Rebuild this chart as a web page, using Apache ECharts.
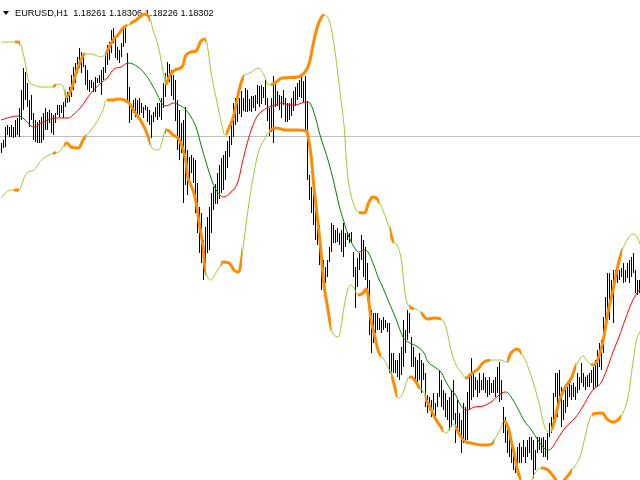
<!DOCTYPE html>
<html><head><meta charset="utf-8">
<script src="https://cdn.jsdelivr.net/npm/echarts@6/dist/echarts.min.js"></script>
<style>html,body{margin:0;padding:0;background:#fff}#c{width:640px;height:480px}</style>
</head><body><div id="c"></div>
<script>
const symbolName = 'EURUSD';
const timeframe = 'H1';
const lastOHLC = ['1.18261', '1.18306', '1.18226', '1.18302'];
const bidPrice = 1.18302;
const priceMin = 1.1487, priceMax = 1.1967;

const barHigh = [
1.1824,1.1827,1.1840,1.1842,1.1840,1.1842,1.1840,1.1847,1.1849,1.1859,
1.1877,1.1899,1.1895,1.1884,1.1867,1.1872,1.1854,1.1847,1.1845,1.1847,
1.1850,1.1854,1.1859,1.1855,1.1857,1.1854,1.1852,1.1854,1.1862,1.1862,
1.1862,1.1865,1.1872,1.1875,1.1880,1.1892,1.1900,1.1904,1.1910,1.1919,
1.1915,1.1914,1.1902,1.1897,1.1887,1.1887,1.1885,1.1890,1.1889,1.1892,
1.1897,1.1900,1.1914,1.1922,1.1925,1.1937,1.1939,1.1930,1.1920,1.1917,
1.1924,1.1939,1.1942,1.1914,1.1880,1.1860,1.1867,1.1869,1.1867,1.1869,
1.1864,1.1860,1.1862,1.1860,1.1857,1.1852,1.1855,1.1860,1.1864,1.1864,
1.1869,1.1884,1.1894,1.1905,1.1903,1.1897,1.1892,1.1887,1.1867,1.1857,
1.1844,1.1847,1.1860,1.1817,1.1810,1.1812,1.1809,1.1807,1.1784,1.1760,
1.1754,1.1727,1.1740,1.1750,1.1760,1.1774,1.1780,1.1783,1.1794,1.1802,
1.1809,1.1812,1.1816,1.1826,1.1831,1.1846,1.1864,1.1869,1.1871,1.1869,
1.1876,1.1869,1.1879,1.1877,1.1868,1.1871,1.1871,1.1872,1.1882,1.1881,
1.1882,1.1880,1.1887,1.1869,1.1859,1.1869,1.1891,1.1884,1.1876,1.1872,
1.1871,1.1877,1.1869,1.1864,1.1864,1.1869,1.1876,1.1880,1.1884,1.1887,
1.1892,1.1886,1.1891,1.1866,1.1792,1.1780,1.1779,1.1774,1.1757,1.1742,
1.1722,1.1707,1.1700,1.1707,1.1720,1.1744,1.1742,1.1737,1.1739,1.1734,
1.1737,1.1744,1.1734,1.1735,1.1734,1.1735,1.1715,1.1700,1.1709,1.1714,
1.1732,1.1727,1.1720,1.1704,1.1687,1.1657,1.1654,1.1654,1.1654,1.1649,
1.1647,1.1650,1.1647,1.1644,1.1644,1.1614,1.1614,1.1607,1.1607,1.1614,
1.1620,1.1647,1.1637,1.1657,1.1654,1.1630,1.1620,1.1610,1.1607,1.1614,
1.1607,1.1604,1.1594,1.1572,1.1570,1.1567,1.1574,1.1564,1.1574,1.1597,
1.1587,1.1577,1.1574,1.1567,1.1570,1.1577,1.1587,1.1554,1.1567,1.1554,
1.1547,1.1564,1.1560,1.1575,1.1590,1.1609,1.1594,1.1590,1.1587,1.1594,
1.1587,1.1594,1.1590,1.1587,1.1590,1.1584,1.1587,1.1590,1.1600,1.1605,
1.1587,1.1560,1.1550,1.1537,1.1530,1.1520,1.1517,1.1514,1.1520,1.1524,
1.1520,1.1527,1.1520,1.1527,1.1530,1.1530,1.1527,1.1517,1.1530,1.1530,
1.1529,1.1530,1.1527,1.1534,1.1544,1.1550,1.1574,1.1594,1.1594,1.1597,
1.1580,1.1567,1.1577,1.1580,1.1584,1.1582,1.1584,1.1580,1.1594,1.1590,
1.1604,1.1594,1.1590,1.1592,1.1594,1.1597,1.1600,1.1607,1.1617,1.1624,
1.1627,1.1650,1.1670,1.1694,1.1694,1.1687,1.1697,1.1697,1.1697,1.1697,
1.1699,1.1704,1.1697,1.1704,1.1707,1.1710,1.1714,1.1697,1.1687,1.1687
];
const barLow = [
1.1814,1.1819,1.1820,1.1832,1.1830,1.1830,1.1829,1.1830,1.1832,1.1830,
1.1847,1.1857,1.1867,1.1860,1.1840,1.1847,1.1827,1.1825,1.1824,1.1824,
1.1824,1.1827,1.1837,1.1837,1.1844,1.1834,1.1832,1.1844,1.1852,1.1850,
1.1854,1.1849,1.1860,1.1864,1.1865,1.1870,1.1877,1.1884,1.1894,1.1899,
1.1894,1.1900,1.1882,1.1877,1.1875,1.1879,1.1875,1.1875,1.1884,1.1884,
1.1872,1.1887,1.1894,1.1902,1.1907,1.1914,1.1924,1.1909,1.1907,1.1904,
1.1910,1.1920,1.1924,1.1867,1.1844,1.1847,1.1854,1.1850,1.1852,1.1852,
1.1854,1.1849,1.1857,1.1845,1.1842,1.1829,1.1845,1.1850,1.1847,1.1850,
1.1847,1.1859,1.1870,1.1883,1.1885,1.1871,1.1867,1.1846,1.1817,1.1807,
1.1814,1.1764,1.1782,1.1772,1.1787,1.1794,1.1784,1.1754,1.1734,1.1714,
1.1704,1.1687,1.1697,1.1714,1.1717,1.1734,1.1757,1.1763,1.1763,1.1768,
1.1774,1.1777,1.1787,1.1799,1.1810,1.1822,1.1830,1.1842,1.1845,1.1853,
1.1850,1.1856,1.1855,1.1855,1.1856,1.1855,1.1859,1.1856,1.1863,1.1860,
1.1863,1.1869,1.1862,1.1846,1.1831,1.1835,1.1824,1.1860,1.1861,1.1857,
1.1849,1.1862,1.1845,1.1845,1.1847,1.1851,1.1856,1.1861,1.1867,1.1870,
1.1869,1.1865,1.1837,1.1787,1.1767,1.1754,1.1742,1.1727,1.1722,1.1702,
1.1677,1.1684,1.1684,1.1690,1.1705,1.1715,1.1724,1.1724,1.1725,1.1722,
1.1715,1.1710,1.1720,1.1727,1.1724,1.1724,1.1690,1.1659,1.1680,1.1697,
1.1707,1.1690,1.1687,1.1677,1.1632,1.1614,1.1624,1.1634,1.1637,1.1637,
1.1634,1.1637,1.1639,1.1635,1.1594,1.1590,1.1594,1.1594,1.1590,1.1587,
1.1592,1.1600,1.1614,1.1627,1.1634,1.1600,1.1600,1.1587,1.1580,1.1587,
1.1574,1.1587,1.1560,1.1554,1.1557,1.1550,1.1557,1.1547,1.1560,1.1570,
1.1560,1.1557,1.1550,1.1547,1.1537,1.1540,1.1547,1.1524,1.1534,1.1530,
1.1514,1.1524,1.1527,1.1527,1.1557,1.1567,1.1570,1.1577,1.1570,1.1574,
1.1577,1.1577,1.1574,1.1570,1.1572,1.1574,1.1574,1.1570,1.1574,1.1565,
1.1567,1.1534,1.1524,1.1514,1.1510,1.1504,1.1497,1.1494,1.1500,1.1504,
1.1504,1.1510,1.1504,1.1510,1.1514,1.1507,1.1489,1.1497,1.1514,1.1517,
1.1514,1.1510,1.1510,1.1507,1.1530,1.1534,1.1540,1.1570,1.1550,1.1567,
1.1540,1.1547,1.1554,1.1560,1.1570,1.1567,1.1570,1.1567,1.1574,1.1577,
1.1584,1.1580,1.1577,1.1580,1.1580,1.1584,1.1577,1.1580,1.1580,1.1600,
1.1597,1.1614,1.1634,1.1650,1.1647,1.1670,1.1644,1.1684,1.1684,1.1687,
1.1690,1.1684,1.1685,1.1689,1.1684,1.1690,1.1694,1.1674,1.1672,1.1674
];

const upperBand = [
[0,1.1925],[8.5,1.1925],[10,1.1922],[12.5,1.1900],[14,1.1885],[16.5,1.1882],[20,1.1880],[25,1.1880],
[29,1.1883],[31,1.1881],[32.5,1.1870],[35,1.1877],[37.5,1.1894],[40,1.1907],[42,1.1913],[45,1.1913],
[50,1.1910],[52.5,1.1914],[56,1.1927],[58.5,1.1932],[61,1.1939],[63.5,1.1942],[65,1.1944],[67.5,1.1947],
[70,1.1951],[72,1.1953],[74.5,1.1948],[76,1.1937],[78.5,1.1922],[80,1.1907],[81.5,1.1891],[82.5,1.1883],
[84.5,1.1892],[87,1.1897],[90.5,1.1900],[92.5,1.1912],[95,1.1915],[97.5,1.1916],[100,1.1926],[102,1.1928],
[103.5,1.1917],[105,1.1895],[108.5,1.1860],[111,1.1837],[112,1.1832],[113.5,1.1837],[116,1.1849],[117.5,1.1862],
[120,1.1884],[122,1.1892],[124.5,1.1894],[128.5,1.1899],[131.5,1.1892],[134,1.1882],[137,1.1884],[140.5,1.1889],
[148.5,1.1890],[152,1.1895],[154,1.1903],[156,1.1922],[158,1.1939],[160,1.1949],[161.5,1.1952],[164,1.1947],
[166.5,1.1922],[168.5,1.1892],[170,1.1867],[171.5,1.1842],[172.5,1.1812],[173.5,1.1789],[175,1.1772],[176.5,1.1762],
[178.5,1.1755],[181.5,1.1754],[184,1.1765],[186,1.1770],[188.5,1.1767],[191.5,1.1754],[194,1.1740],[196,1.1726],
[198,1.1722],[200,1.1709],[201.5,1.1682],[203,1.1664],[205,1.1659],[207.5,1.1658],[210,1.1654],[213.5,1.1648],
[216.5,1.1649],[220,1.1648],[222.5,1.1639],[225,1.1617],[227.5,1.1602],[230,1.1595],[232.5,1.1589],[235,1.1593],
[238.5,1.1598],[241.5,1.1605],[246.5,1.1607],[250,1.1607],[252.5,1.1605],[255,1.1614],[258,1.1618],[260.5,1.1613],
[263.5,1.1600],[266.5,1.1582],[269.5,1.1560],[272,1.1539],[274,1.1535],[276,1.1541],[278,1.1557],[280,1.1571],
[282.5,1.1581],[285,1.1588],[287,1.1599],[288.5,1.1605],[291,1.1611],[293.5,1.1605],[296,1.1602],[298.5,1.1608],
[301,1.1626],[303.5,1.1655],[306,1.1677],[308,1.1697],[310,1.1713],[313,1.1727],[316,1.1733],[318,1.1730],[320,1.1720]
];
const middleLine = [
[0,1.1847],[5,1.1850],[8.5,1.1851],[11.5,1.1848],[15,1.1841],[16.5,1.1840],[20,1.1844],[23.5,1.1847],
[27.5,1.1849],[33.5,1.1849],[36,1.1852],[40,1.1860],[45,1.1874],[50,1.1884],[53.5,1.1890],[56.5,1.1898],
[60,1.1900],[63.5,1.1904],[68.5,1.1900],[72,1.1893],[75,1.1884],[78.5,1.1871],[80,1.1865],[82,1.1861],
[84,1.1862],[86,1.1864],[89,1.1862],[92,1.1858],[95,1.1850],[97.5,1.1840],[100,1.1822],[102.5,1.1805],
[105,1.1789],[107,1.1779],[109.5,1.1772],[111,1.1770],[114.5,1.1774],[118,1.1783],[120.5,1.1803],[123,1.1823],
[125.5,1.1839],[128.5,1.1852],[133,1.1859],[137,1.1862],[140.5,1.1864],[143.5,1.1862],[147,1.1862],[150.5,1.1864],
[153,1.1865],[154.5,1.1864],[157,1.1851],[159.5,1.1832],[163.5,1.1807],[166.5,1.1784],[169,1.1762],[171.5,1.1745],
[174,1.1730],[177.5,1.1717],[179,1.1715],[181.5,1.1717],[183.5,1.1715],[186.5,1.1701],[188.5,1.1690],[191,1.1679],
[193.5,1.1667],[197.5,1.1648],[201,1.1630],[203.5,1.1625],[208.5,1.1620],[211.5,1.1614],[213.5,1.1605],[217.5,1.1599],
[220,1.1595],[222,1.1587],[225,1.1577],[227,1.1573],[230,1.1561],[232.5,1.1557],[237,1.1560],[241,1.1561],
[245,1.1565],[248.5,1.1571],[252,1.1575],[253.5,1.1574],[256,1.1567],[258.5,1.1558],[262,1.1545],[264.5,1.1539],
[267.5,1.1530],[271,1.1520],[273.5,1.1517],[275,1.1518],[278,1.1527],[282,1.1539],[287,1.1549],[290.5,1.1559],
[295.5,1.1576],[298.5,1.1581],[300,1.1584],[303,1.1598],[306,1.1615],[309,1.1630],[312,1.1647],[315.5,1.1665],
[318,1.1674],[320,1.1679]
];
const lowerBand = [
[0,1.1769],[5,1.1777],[9,1.1777],[10,1.1780],[11.5,1.1789],[13.5,1.1795],[16.5,1.1797],[19,1.1804],
[21.5,1.1809],[24,1.1812],[26.5,1.1814],[29,1.1815],[31.5,1.1822],[33,1.1824],[35,1.1820],[38.5,1.1819],
[41,1.1827],[43,1.1832],[45,1.1837],[48.5,1.1847],[51,1.1857],[53,1.1867],[56,1.1867],[58.5,1.1868],
[61.5,1.1867],[64,1.1864],[66.5,1.1856],[70,1.1846],[72.5,1.1836],[74.5,1.1825],[76,1.1818],[78.5,1.1817],
[80,1.1822],[82,1.1836],[83,1.1837],[86,1.1832],[88.5,1.1829],[90.5,1.1821],[92.5,1.1805],[93.5,1.1789],
[96,1.1777],[97.5,1.1765],[99,1.1745],[101,1.1721],[102,1.1699],[103.5,1.1689],[105,1.1687],[107,1.1693],
[109,1.1699],[111,1.1705],[114,1.1704],[116.5,1.1697],[118.5,1.1695],[120,1.1704],[121.5,1.1727],[124,1.1764],
[126.5,1.1794],[129,1.1817],[131.5,1.1827],[133.5,1.1834],[135,1.1837],[137.5,1.1839],[142.5,1.1837],[148.5,1.1837],
[152.5,1.1836],[153.5,1.1831],[155,1.1812],[156.5,1.1779],[158.5,1.1744],[160,1.1715],[161.5,1.1682],[163.5,1.1657],
[165,1.1640],[166.5,1.1632],[168.5,1.1630],[170,1.1640],[171.5,1.1660],[173.5,1.1678],[175,1.1682],[176.5,1.1679],
[178.5,1.1672],[181,1.1674],[182.5,1.1678],[184,1.1664],[185,1.1647],[186.5,1.1634],[189,1.1614],[191,1.1609],
[193.5,1.1600],[196,1.1587],[197.5,1.1575],[199,1.1569],[201,1.1574],[203.5,1.1589],[205,1.1590],[207.5,1.1585],
[209,1.1580],[211,1.1576],[212.5,1.1567],[213.5,1.1564],[217,1.1549],[220,1.1540],[222.5,1.1534],[224.5,1.1539],
[226,1.1543],[227.5,1.1539],[230,1.1530],[232.5,1.1525],[235,1.1524],[240,1.1522],[243.5,1.1522],[246,1.1524],
[247.5,1.1530],[249.5,1.1537],[251.5,1.1546],[253.5,1.1540],[255,1.1527],[257,1.1510],[258.5,1.1495],[260,1.1487],
[262.5,1.1481],[265,1.1485],[267,1.1494],[270.5,1.1499],[273.5,1.1497],[276.5,1.1490],[279,1.1484],[282,1.1488],
[284.5,1.1494],[287,1.1501],[289.5,1.1510],[292,1.1530],[294.5,1.1549],[296,1.1553],[300.5,1.1554],[303,1.1548],
[306,1.1545],[309.5,1.1549],[311,1.1554],[313.5,1.1570],[316,1.1605],[318,1.1629],[320,1.1637]
];

// bar-index ranges where price presses on a band (drawn thick orange)
const upperTouch = [[7,9.5],[26,27.5],[32,42],[52,63],[64.5,74.5],[82,102.5],[112.5,121.5],[135,161.5],
  [179,189],[194.5,196.5],[204,206.5],[210,220],[232,244.5],[253,260],[275,287.5],[295,310.5]];
const lowerTouch = [[6.5,9],[26,27.5],[31.5,42.5],[53,74.5],[82,102.5],[110,120.5],[134,165],[178.5,190],
  [195,198],[204,209.5],[212,221],[227,246.5],[251.5,260],[270,278],[281,285.5],[295.5,310]];
// bar-index ranges where the middle line is rising (red), otherwise falling (green)
const middleRising = [[0,8.5],[16.5,63.5],[82,86.5],[110.5,153.5],[178.5,182.5],[232.5,252.5],[274,320]];

const COL_BAND = '#9ACD32', COL_TOUCH = '#FF8C00', COL_UP = '#FF0000', COL_DOWN = '#008000';

const bars = barHigh.map((h, i) => [i, h, barLow[i]]);

const chart = echarts.init(document.getElementById('c'), null, {renderer: 'canvas'});
chart.setOption({
  animation: false,
  backgroundColor: '#ffffff',
  grid: {left: 0, right: 0, top: 0, bottom: 0},
  xAxis: {type: 'value', min: -0.5, max: 319.5, show: false},
  yAxis: {type: 'value', min: priceMin, max: priceMax, show: false, scale: true},
  graphic: [
    {type: 'polygon', shape: {points: [[3, 11], [9, 11], [6, 15]]}, style: {fill: '#000'}},
    {type: 'text', x: 15, y: 13, style: {
      text: symbolName + ',' + timeframe + '  ' + lastOHLC.join(' '),
      font: '9.2px "Liberation Sans", Arial, sans-serif', fill: '#000', verticalAlign: 'middle'}}
  ],
  visualMap: [
    {type: 'piecewise', show: false, seriesIndex: 4, dimension: 0,
     pieces: upperTouch.map(r => ({gte: r[0], lte: r[1], color: COL_TOUCH})),
     outOfRange: {color: 'rgba(255,140,0,0)'}},
    {type: 'piecewise', show: false, seriesIndex: 5, dimension: 0,
     pieces: lowerTouch.map(r => ({gte: r[0], lte: r[1], color: COL_TOUCH})),
     outOfRange: {color: 'rgba(255,140,0,0)'}},
    {type: 'piecewise', show: false, seriesIndex: 6, dimension: 0,
     pieces: middleRising.map(r => ({gte: r[0], lte: r[1], color: COL_UP})),
     outOfRange: {color: COL_DOWN}}
  ],
  series: [
    {type: 'custom', data: [[0, bidPrice]], silent: true,
     renderItem: function (params, api) {
       const c = api.coord([0, api.value(1)]);
       const y = Math.floor(c[1]) + 0.5;
       return {type: 'line', shape: {x1: params.coordSys.x, y1: y, x2: params.coordSys.x + params.coordSys.width, y2: y},
               style: {stroke: '#C0C0C0', lineWidth: 1}};
     }},
    {type: 'custom', data: bars, silent: true, clip: true,
     encode: {x: 0, y: [1, 2]},
     renderItem: function (params, api) {
       const t = api.coord([api.value(0), api.value(1)]);
       const b = api.coord([api.value(0), api.value(2)]);
       const x = Math.round(t[0]);
       const y0 = Math.round(t[1]);
       const y1 = Math.round(b[1]);
       return {type: 'rect', shape: {x: x, y: y0, width: 1, height: Math.max(1, y1 - y0)}, style: {fill: '#000'}};
     }},
    {type: 'line', data: upperBand, smooth: 0.4, showSymbol: false, silent: true, lineStyle: {color: COL_BAND, width: 1}, itemStyle: {color: COL_BAND}},
    {type: 'line', data: lowerBand, smooth: 0.4, showSymbol: false, silent: true, lineStyle: {color: COL_BAND, width: 1}, itemStyle: {color: COL_BAND}},
    {type: 'line', data: upperBand, smooth: 0.4, showSymbol: false, silent: true, lineStyle: {width: 3}},
    {type: 'line', data: lowerBand, smooth: 0.4, showSymbol: false, silent: true, lineStyle: {width: 3}},
    {type: 'line', data: middleLine, smooth: 0.4, showSymbol: false, silent: true, lineStyle: {width: 1}}
  ]
});
</script>
</body></html>
